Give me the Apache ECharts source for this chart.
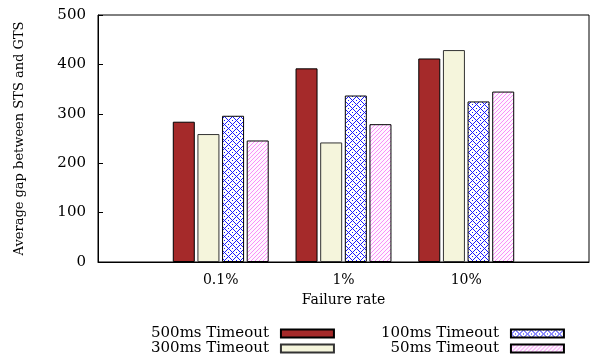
<!DOCTYPE html>
<html>
<head>
<meta charset="utf-8">
<script src="https://cdn.jsdelivr.net/npm/echarts@6/dist/echarts.min.js"></script>
<style>
html,body{margin:0;padding:0;background:#fff;}
#chart{width:592px;height:358px;}
</style>
</head>
<body>
<div id="chart"></div>
<script>
var categories = ['', '0.1%', '1%', '10%', ''];
var seriesNames = ['500ms Timeout', '300ms Timeout', '100ms Timeout', '50ms Timeout'];
var s500 = [null, 284, 392, 412, null];
var s300 = [null, 259, 242, 429, null];
var s100 = [null, 296, 337, 325, null];
var s50  = [null, 246, 279, 345, null];
var yTicks = [0, 100, 200, 300, 400, 500];

function makeBluePattern() {
  var c = document.createElement('canvas');
  c.width = 8; c.height = 8;
  var g = c.getContext('2d');
  g.fillStyle = '#ffffff'; g.fillRect(0, 0, 8, 8);
  g.fillStyle = '#1a1aff';
  var px = [[4,0],[5,1],[6,2],[7,3],[0,4],[1,5],[2,6],[3,7],[3,1],[2,2],[1,3],[7,5],[6,6],[5,7],[4,4],[0,0]];
  px.forEach(function (p) { g.fillRect(p[0], p[1], 1, 1); });
  return c;
}
function makePinkPattern() {
  var c = document.createElement('canvas');
  c.width = 8; c.height = 8;
  var g = c.getContext('2d');
  g.fillStyle = '#fff6ff'; g.fillRect(0, 0, 8, 8);
  g.fillStyle = '#f890f8';
  [[3,0],[2,1],[1,2],[0,3],[7,0],[6,1],[5,2],[4,3],[3,4],[2,5],[1,6],[0,7],[7,4],[6,5],[5,6],[4,7]].forEach(function (p) { g.fillRect(p[0], p[1], 1, 1); });
  return c;
}

var fontFam = 'DejaVu Serif';
var chart = echarts.init(document.getElementById('chart'), null, {renderer: 'canvas'});
var pinkFill = {image: makePinkPattern(), repeat: 'repeat'};
var blueFill = {image: makeBluePattern(), repeat: 'repeat'};
var fills = ['#a52a2a', '#f5f5dc', blueFill, pinkFill];
var datas = [s500, s300, s100, s50];
var series = seriesNames.map(function (n, i) {
  return {
    name: n,
    type: 'bar',
    data: datas[i],
    barWidth: 22,
    barGap: '12%',
    itemStyle: {color: fills[i], borderColor: i === 1 ? '#333' : '#000', borderWidth: 1},
    emphasis: {disabled: true},
    animation: false
  };
});
var legendText = {fontFamily: fontFam, fontSize: 15, color: '#000', padding: [0, 7, 0, 0]};
chart.setOption({
  animation: false,
  grid: {left: 98, right: 1, top: 15, bottom: 96, show: true, borderColor: '#000', borderWidth: 1},
  xAxis: {
    type: 'category',
    data: categories,
    boundaryGap: false,
    name: 'Failure rate',
    nameLocation: 'middle',
    nameGap: 31,
    nameTextStyle: {fontFamily: fontFam, fontSize: 14, color: '#000'},
    axisLine: {lineStyle: {color: '#000', width: 1}},
    axisTick: {show: false},
    axisLabel: {fontFamily: fontFam, fontSize: 14, color: '#000', margin: 11},
    splitLine: {show: false}
  },
  yAxis: {
    type: 'value',
    min: yTicks[0],
    max: yTicks[yTicks.length - 1],
    interval: 100,
    name: 'Average gap between STS and GTS',
    nameLocation: 'middle',
    nameGap: 72,
    nameTextStyle: {fontFamily: fontFam, fontSize: 13, color: '#000'},
    axisLine: {show: true, lineStyle: {color: '#000', width: 1}},
    axisTick: {show: true, inside: true, length: 5, lineStyle: {color: '#000'}},
    axisLabel: {fontFamily: fontFam, fontSize: 15, color: '#000', margin: 12},
    splitLine: {show: false}
  },
  legend: [
    {
      data: ['500ms Timeout', '300ms Timeout'],
      orient: 'vertical', align: 'right', left: 151, top: 326, height: 80,
      itemWidth: 53, itemHeight: 8, itemGap: 0, padding: 0,
      icon: 'rect', textStyle: legendText, selectedMode: false
    },
    {
      data: ['100ms Timeout', '50ms Timeout'],
      orient: 'vertical', align: 'right', left: 381, top: 326, height: 80,
      itemWidth: 53, itemHeight: 8, itemGap: 0, padding: 0,
      icon: 'rect', textStyle: legendText, selectedMode: false
    }
  ],
  series: series
});
</script>
</body>
</html>
